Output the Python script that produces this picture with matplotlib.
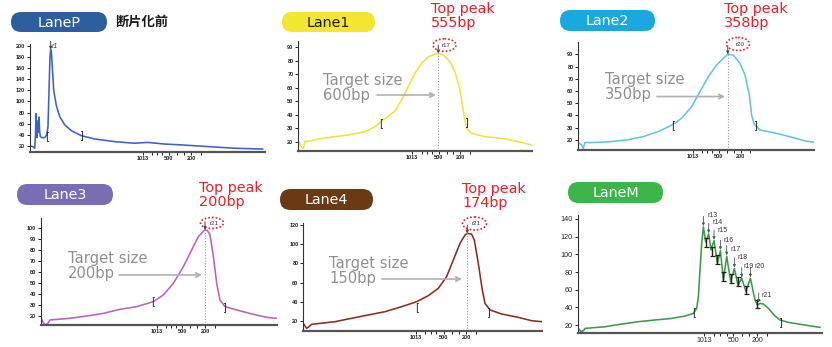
import matplotlib
matplotlib.use("Agg")
import matplotlib.pyplot as plt
from matplotlib.patches import FancyBboxPatch, Ellipse

plt.rcParams['font.family'] = ['DejaVu Sans', 'Noto Sans CJK JP']

W, H = 832, 347
fig = plt.figure(figsize=(W / 100, H / 100), dpi=100)

# ---------------- electropherogram traces (migration time, FU) ----------------
laneP_time = [1, 3, 5, 5.8, 6.3, 6.9, 7.4, 8, 8.6, 9.3, 10, 10.7, 12, 15, 17, 18.3, 19.3,
              20.3, 21, 21.8, 22.5, 24, 26.7, 30, 35, 41.7, 51.7, 65, 85, 105, 118, 135,
              151.7, 178, 205, 233]
laneP_fu = [20, 19, 16, 40, 78, 50, 35, 65, 45, 72, 45, 37, 35, 35, 40, 55, 120,
            180, 193, 185, 165, 120, 92, 73, 58, 47.5, 38.5, 32.6, 27.8, 25, 26.5, 23.5,
            22, 19, 16, 14.6]

lane1_time = [0.7, 3, 5, 6.7, 8.3, 20, 36.7, 53.3, 66.7, 76.7, 83.3, 91.7, 96.7, 103.3,
              110, 116.7, 123.3, 130, 136.7, 140, 145, 151.7, 156.7, 161.7, 165.7, 168.3,
              173.3, 186.7, 203.3, 220, 234]
lane1_fu = [20, 16, 15, 20.5, 20, 22, 23.7, 25.4, 27.4, 31, 35.3, 39.8, 42.7, 50.9,
            60.8, 70.7, 78.1, 83, 85, 85.5, 84.3, 79.3, 71.9, 58.3, 39.8, 29.9,
            26.2, 23.7, 22.5, 20, 17.5]

lane2_time = [0.7, 3.3, 5, 6.7, 11.7, 31.7, 48.3, 65, 81.7, 95, 103.3, 113.3, 121.7, 130,
              138.3, 145, 149.5, 155, 161.7, 166.7, 171, 173.3, 176, 181.7, 198.3, 215,
              226.7, 235.7]
lane2_fu = [17.3, 16, 13.2, 18, 17.8, 18.6, 20, 22.7, 27.4, 32.8, 37.7, 47.2, 59.5, 71.7,
            81.3, 86.7, 90, 89.4, 82.6, 73.1, 56.8, 40.4, 32.8, 28.2, 25.4, 21.9,
            19.2, 18.1]

lane3_time = [1.3, 3.3, 6.7, 9.3, 29.3, 46, 62.7, 79.3, 96, 112.7, 122.7, 132.7, 142.7,
              151, 157.7, 164.3, 166.7, 169.3, 172.7, 176, 179.3, 184.3, 196, 212.7,
              226, 236]
lane3_fu = [16.4, 12.4, 12.7, 16.4, 17.9, 20, 22.4, 26.1, 28.5, 33.1, 39.2, 49.8, 65,
            80.2, 92.4, 98.5, 97.9, 93.9, 74.1, 49.8, 34.6, 28.5, 25.5, 21.5,
            18.8, 17.9]

lane4_time = [0.7, 3.3, 5.7, 8.3, 31.7, 48.3, 65, 81.7, 98.3, 113.3, 125, 135, 143.3,
              150, 156.7, 161.7, 164, 168.3, 171, 175, 179, 181.7, 186.7, 198.3, 215,
              228.3, 238.3]
lane4_fu = [16.5, 12.4, 14.1, 16.5, 19.3, 22.8, 26.3, 29.7, 34.9, 40.1, 46.4, 54, 66.2,
            83.5, 100.9, 109.6, 111.3, 110.6, 104.4, 80.1, 52.3, 38.4, 31.5, 27.3, 23.8,
            20.3, 19.3]

laneM_time = [0.7, 3.3, 5.7, 7.3, 27.3, 44, 60.7, 77.3, 94, 107.3, 115.7, 119, 120.7,
              122.3, 124, 125.7, 128, 131, 133.3, 136.3, 139.7, 142.7, 145.7, 149, 153,
              156.7, 160.3, 164, 168.3, 172.7, 177.3, 179.7, 182.3, 185.7, 190.7, 197.3,
              202.3, 210.7, 227.3, 242.3]
laneM_fu = [16.2, 12.5, 13.6, 16.2, 18.1, 21.1, 23.8, 25.7, 27.5, 30.2, 33.2, 38.9, 52.1,
            82.3, 112.5, 131, 114, 123, 105, 115.5, 90, 104, 71, 98, 69,
            84, 65, 73, 57.7, 73, 48.3, 42.6, 44.5, 43.8, 38.9, 30.2,
            25.7, 23, 20, 17.4]

# ladder peaks called in the marker lane
laneM_peak_time = [125.7, 131, 136.3, 142.7, 149, 156.7, 164, 172.7, 181]
laneM_peak_fu = [131, 123, 115.5, 104, 98, 84, 73, 73, 44.5]
laneM_peak_names = ["r13", "r14", "r15", "r16", "r17", "r18", "r19", "r20", "r21"]
# where each peak name is printed
laneM_name_time = [129.5, 134.5, 139.5, 145.5, 153, 159.3, 165.5, 177, 184]
laneM_name_fu = [144, 136, 127, 115.5, 105, 96.5, 86, 86, 53]
# valley boundaries between ladder peaks
laneM_gap_time = [128.3, 134, 139.7, 145.7, 153, 160, 168, 179]
laneM_gap_fu = [113.2, 103, 94.3, 74.7, 72.8, 69, 59.6, 43.8]

# top peak of each sheared lane
lane_names = ["Lane1", "Lane2", "Lane3", "Lane4"]
top_peak_time = [140, 149.5, 164.3, 164]
top_peak_fu = [85.5, 90, 98.5, 111.3]
top_peak_bp = ["555bp", "358bp", "200bp", "174bp"]
top_peak_names = ["r17", "r20", "r21", "r21"]
target_bp = ["600bp", "350bp", "200bp", "150bp"]

ladder_labels = ["1013", "500", "200"]

# smear region boundaries ([ start, ] end)
region_start = {"LaneP": (17.7, 37), "Lane1": (82.7, 33.6), "Lane2": (95, 32.3),
                "Lane3": (112, 34), "Lane4": (113.3, 35), "LaneM": (116.7, 35)}
region_end = {"LaneP": (51, 40), "Lane1": (167.7, 34.3), "Lane2": (176.7, 32.3),
              "Lane3": (183.3, 28), "Lane4": (184.3, 29.7), "LaneM": (202.3, 23.8)}

# ---------------- layout (pixel boxes: left, top, right, bottom) ----------------
panels = {
    "LaneP": dict(t=laneP_time, f=laneP_fu, color="#3b62c4", box=(29.7, 44, 264.7, 151.7),
                  ylim=(9.8, 203), yticks=range(20, 201, 20),
                  major=[113.3, 139.3, 161.3], minor=[122.6, 127.6, 132.6, 147.3, 154.3, 171]),
    "Lane1": dict(t=lane1_time, f=lane1_fu, color="#ece43c", box=(298.3, 41, 532.3, 150.7),
                  ylim=(13.3, 94.7), yticks=range(20, 91, 10),
                  major=[114, 140.3, 162], minor=[123.3, 128.3, 133.3, 148.3, 155, 171.7]),
    "Lane2": dict(t=lane2_time, f=lane2_fu, color="#62c6d8", box=(578.3, 41.7, 814, 150),
                  ylim=(11.8, 100.3), yticks=range(20, 91, 10),
                  major=[114.7, 140.7, 162.3], minor=[124, 129, 134, 148.7, 155.7, 172]),
    "Lane3": dict(t=lane3_time, f=lane3_fu, color="#b463c4", box=(40.7, 218.3, 276.7, 325),
                  ylim=(11.8, 109), yticks=range(20, 101, 10),
                  major=[116.3, 141.7, 164.3], minor=[125.6, 130.6, 135.6, 149.7, 156.7, 174]),
    "Lane4": dict(t=lane4_time, f=lane4_fu, color="#8a2e1e", box=(303.3, 223.3, 541.7, 330.5),
                  ylim=(10.1, 121.8), yticks=range(20, 121, 20),
                  major=[112.3, 140.3, 163], minor=[122, 127.5, 133, 148.5, 155.5, 173]),
    "LaneM": dict(t=laneM_time, f=laneM_fu, color="#3d9a4a", box=(577.7, 215, 821.7, 333),
                  ylim=(11, 144.5), yticks=range(20, 141, 20),
                  major=[126.3, 155.7, 179.7], minor=[136, 142.5, 149, 164, 171.5, 189.7]),
}

badges = {
    "LaneP": ((11, 12, 107, 32), "#2d5f9e", "white"),
    "Lane1": ((282, 12, 375, 32), "#f2e62e", "#1a1a1a"),
    "Lane2": ((560, 10, 655, 31), "#19a9e1", "white"),
    "Lane3": ((17, 184, 113, 205), "#7b6db3", "white"),
    "Lane4": ((280, 189, 373, 210), "#6a3a14", "white"),
    "LaneM": ((568, 182, 663, 203), "#3cb54a", "white"),
}

axes = {}
for name, p in panels.items():
    l, t, r, b = p["box"]
    ax = fig.add_axes([l / W, 1 - b / H, (r - l) / W, (b - t) / H])
    ax.set_facecolor("none")
    ax.plot(p["t"], p["f"], color=p["color"], lw=1.15, solid_joinstyle="round")
    ax.set_xlim(0, r - l)
    ax.set_ylim(*p["ylim"])
    for s in ("top", "right"):
        ax.spines[s].set_visible(False)
    ax.spines["left"].set_color("#333333")
    ax.spines["left"].set_linewidth(0.8)
    ax.spines["bottom"].set_color("#555555")
    ax.spines["bottom"].set_linewidth(1.6)
    ax.set_yticks(list(p["yticks"]))
    ax.set_xticks(p["major"], ladder_labels)
    ax.set_xticks(p["minor"], minor=True)
    big = name == "LaneM"
    ax.tick_params(axis="y", length=2.5, width=0.7, pad=1, labelsize=5.2 if big else 4,
                   colors="#222222")
    ax.tick_params(axis="x", which="both", length=2.5, width=0.7, pad=0.5,
                   labelsize=5 if big else 4, colors="#222222")
    for lab in ax.get_xticklabels() + ax.get_yticklabels():
        lab.set_family("Liberation Sans")
        lab.set_fontweight("normal" if big else "bold")
    s0 = region_start[name]
    s1 = region_end[name]
    ax.text(s0[0], s0[1], "[", ha="center", va="center", fontsize=7, color="#222222")
    ax.text(s1[0], s1[1], "]", ha="center", va="center", fontsize=7, color="#222222")
    axes[name] = ax

# LaneP main peak call
axP = axes["LaneP"]
axP.annotate("", xy=(21, 193), xytext=(0, 6), textcoords="offset points",
             arrowprops=dict(arrowstyle="-|>", color="#444444", lw=0.7,
                             mutation_scale=4, shrinkA=0, shrinkB=0))
axP.text(22.5, 199, "r1", fontsize=5, style="italic", color="#333333",
         family="Liberation Sans", va="center", clip_on=False)

# sheared lanes: top peak call and guide line
for name, pt, pf in zip(lane_names, top_peak_time, top_peak_fu):
    ax = axes[name]
    y0 = ax.get_ylim()[0]
    ax.plot([pt, pt], [y0, pf + 2], ls=(0, (1, 1.5)), color="#999999", lw=0.8)
    ax.annotate("", xy=(pt, pf), xytext=(0, 6), textcoords="offset points",
                arrowprops=dict(arrowstyle="-|>", color="#444444", lw=0.7,
                                mutation_scale=4, shrinkA=0, shrinkB=0))

# marker lane: peak calls, valley boundaries, labels
axM = axes["LaneM"]
for pt, pf in zip(laneM_peak_time, laneM_peak_fu):
    axM.annotate("", xy=(pt, pf + 1), xytext=(0, 7), textcoords="offset points",
                 arrowprops=dict(arrowstyle="-|>", color="#555555", lw=0.6,
                                 mutation_scale=4, shrinkA=0, shrinkB=0))
axM.errorbar(laneM_gap_time, laneM_gap_fu, yerr=5, fmt="none", ecolor="#222222",
             elinewidth=1.0, capsize=1.8, capthick=0.9)
for nt, nf, nm in zip(laneM_name_time, laneM_name_fu, laneM_peak_names):
    axM.text(nt, nf, nm, fontsize=5, color="#333333",
             family="Liberation Sans", va="center", ha="left", clip_on=False)

# ---------------- overlay for badges and callouts (pixel space) ----------------
ov = fig.add_axes([0, 0, 1, 1], zorder=10)
ov.set_xlim(0, W)
ov.set_ylim(H, 0)
ov.axis("off")
ov.patch.set_alpha(0)

for name, (box, fc, tc) in badges.items():
    x0, y0, x1, y1 = box
    h = y1 - y0
    ov.add_patch(FancyBboxPatch((x0, y0), x1 - x0, h,
                                boxstyle=f"round,pad=0,rounding_size={h / 2}",
                                fc=fc, ec="none"))
    ov.text((x0 + x1) / 2, (y0 + y1) / 2 + 0.5, name, color=tc, fontsize=10.3,
            ha="center", va="center")

ov.text(115, 22, "断片化前", fontsize=9.5, fontweight="bold", color="#1a1a1a",
        family=["Noto Sans CJK JP", "DejaVu Sans"], va="center", ha="left")

callouts = {
    "Lane1": dict(top=(431, 2), target=(323, 73), arrow=((377, 95), (436, 95)),
                  ell=(444.5, 45, 23, 12.5)),
    "Lane2": dict(top=(724, 2), target=(605, 72), arrow=((657, 96.5), (725, 96.5)),
                  ell=(738, 44, 23, 13)),
    "Lane3": dict(top=(199, 181), target=(68, 251), arrow=((119, 275), (202, 275)),
                  ell=(212, 223, 23, 11)),
    "Lane4": dict(top=(462, 182), target=(329, 256), arrow=((382, 279), (462, 279)),
                  ell=(474.5, 223.5, 24, 13)),
}
for name, bp, tgt, pk in zip(lane_names, top_peak_bp, target_bp, top_peak_names):
    c = callouts[name]
    ov.text(c["top"][0], c["top"][1], "Top peak\n" + bp, color="#e8202a", fontsize=10.4,
            va="top", ha="left", linespacing=1.0)
    ov.text(c["target"][0], c["target"][1], "Target size\n" + tgt, color="#8f8f8f",
            fontsize=10.6, va="top", ha="left", linespacing=1.0)
    (xa, ya), (xb, yb) = c["arrow"]
    ov.annotate("", xy=(xb, yb), xytext=(xa, ya),
                arrowprops=dict(arrowstyle="->", color="#b0b0b0", lw=1.2,
                                mutation_scale=8, shrinkA=0, shrinkB=0))
    cx, cy, ew, eh = c["ell"]
    ov.add_patch(Ellipse((cx, cy), ew, eh, fill=False, ec="#e8202a", lw=1.2,
                         ls=(0, (1, 1.2))))
    ov.text(cx + 2, cy, pk, fontsize=4.5, color="#333333", ha="center", va="center",
            family="Liberation Sans")

fig.savefig("out.png", dpi=100)
